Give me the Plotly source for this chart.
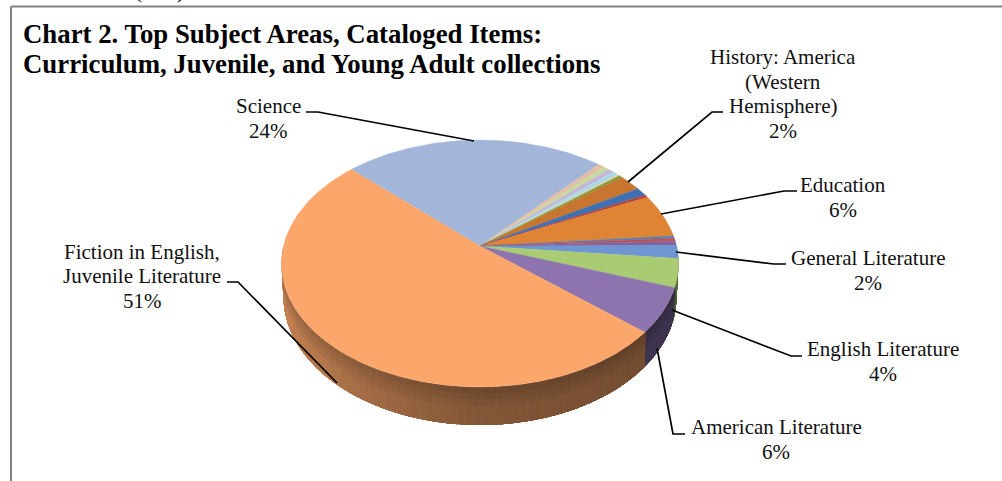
import numpy as np
import plotly.graph_objects as go

# Clockwise slice order, beginning at the Science / Fiction boundary
subjects = ["Science", "Minor 1", "Minor 2", "Minor 3", "Minor 4", "Minor 5", "Minor 6",
            "History: America (Western Hemisphere)", "Minor 7", "Minor 8", "Education",
            "Minor 9", "Minor 10", "Minor 11", "General Literature", "English Literature",
            "American Literature", "Fiction in English, Juvenile Literature"]
shares = [24.4, 0.6, 0.55, 0.55, 0.55, 0.2, 0.35, 2.1, 1.1, 0.35, 5.7,
          0.3, 0.4, 0.55, 1.7, 3.7, 5.9, 51.0]
colors = ["#A3B5D8", "#E4BFA8", "#C8D89E", "#C6B4D8", "#A9D9E6", "#F5CFA8", "#7F9F3C",
          "#C8762F", "#3E70B2", "#B8443F", "#DE8434",
          "#4F81BD", "#C0504D", "#8064A2", "#6E96D2", "#A9CC72", "#8D74AE", "#FBA76B"]

# Label text and its placement: centre x and the y of each line
labels = {
    "Science": (268, ["Science"], [106, 131]),
    "History: America (Western Hemisphere)": (783, ["History: America", "(Western", "Hemisphere)"], [57, 82, 106, 131]),
    "Education": (843, ["Education"], [185, 210]),
    "General Literature": (868, ["General Literature"], [258, 283]),
    "English Literature": (883, ["English Literature"], [349, 374]),
    "American Literature": (776, ["American Literature"], [427, 452]),
    "Fiction in English, Juvenile Literature": (142, ["Fiction in English,", "Juvenile Literature"], [252, 276, 301]),
}
leaders = {
    "Science": ([306, 318, 474], [112, 112, 141]),
    "History: America (Western Hemisphere)": ([723, 712, 628], [112, 112, 182]),
    "Education": ([797, 784, 661], [191, 191, 214]),
    "General Literature": ([786, 774, 676], [264, 264, 252]),
    "English Literature": ([802, 791, 672], [356, 356, 310]),
    "American Literature": ([685, 673, 657], [434, 434, 348]),
    "Fiction in English, Juvenile Literature": ([227, 238, 337], [282, 282, 383]),
}
title_lines = ["Chart 2. Top Subject Areas, Cataloged Items:",
               "Curriculum, Juvenile, and Young Adult collections"]

SERIF = "Liberation Serif"

# Perspective view of the pie disc: apex, radius, foreshortening and wall depth
APEX_X, APEX_Y, RADIUS, FORE, TILT, DEPTH = 480.0, 246.0, 196.5, 0.1417, 121.0, 32.6
START_ANGLE = 136.0


def project(deg, lower=0.0):
    """Project a rim angle (radius 1) onto the page; lower=1 gives the underside."""
    t = np.radians(np.asarray(deg, dtype=float))
    u, v = np.cos(t), np.sin(t)
    w = 1 + FORE * v
    scale = 1 - 0.01 * lower
    return (APEX_X + RADIUS * scale * u / w,
            APEX_Y - TILT * v / w + lower * DEPTH / w)


def tone(hex_color, factor):
    r, g, b = (int(hex_color[i:i + 2], 16) for i in (1, 3, 5))
    return f"rgb({min(255, int(r * factor))},{min(255, int(g * factor))},{min(255, int(b * factor))})"


def wall_shade(deg):
    # deg runs from 180 (left) through 270 (front) to 360 (right)
    return np.interp(deg, [180, 225, 270, 320, 345, 360], [0.80, 0.68, 0.50, 0.44, 0.42, 0.62])


fig = go.Figure()
ends = START_ANGLE - np.cumsum(shares) * 3.6
starts = np.concatenate([[START_ANGLE], ends[:-1]])

# Side wall of the disc, front half only, as narrow strips: each strip overlaps its
# neighbour so no seams show between them, and shading steps are small
STEP = 2.0
LAYERS = 6
for a0, a1, col in zip(starts, ends, colors):
    lo, hi = a1, a0
    for shift in (0, 360):
        s0, s1 = max(lo + shift, 180), min(hi + shift, 360)
        if s1 <= s0:
            continue
        edges = np.linspace(s0, s1, max(2, int((s1 - s0) / STEP) + 2))
        for e0, e1 in zip(edges[:-1], edges[1:]):
            shade = float(wall_shade((e0 + e1) / 2))
            # paint from the top edge downward, each pass reaching to the underside
            for k in range(LAYERS):
                l0 = k / LAYERS
                f = 0.88 + 0.17 * min(1.0, l0 * 2)
                x0, y0 = project([e0 - 0.6, e1 + 0.6], l0)
                x1, y1 = project([e1 + 0.6, e0 - 0.6], 1.0)
                fig.add_trace(go.Scatter(x=np.r_[x0, x1], y=np.r_[y0, y1], mode="none",
                                         fill="toself", fillcolor=tone(col, shade * f),
                                         hoverinfo="skip", showlegend=False))

# Top face of the pie
for name, a0, a1, col in zip(subjects, starts, ends, colors):
    arc = np.linspace(a0, a1, max(3, int(abs(a0 - a1) * 2)))
    ax, ay = project(arc)
    fig.add_trace(go.Scatter(x=np.r_[APEX_X, ax, APEX_X], y=np.r_[APEX_Y, ay, APEX_Y],
                             mode="lines", fill="toself", fillcolor=col,
                             line=dict(color=col, width=0.4), name=name,
                             hoverinfo="name", showlegend=False))

# Leader lines
for lx, ly in leaders.values():
    fig.add_trace(go.Scatter(x=lx, y=ly, mode="lines", line=dict(color="black", width=1.7),
                             hoverinfo="skip", showlegend=False))

annotations = []


def put(text, x, y, size, anchor="center", bold=False, yanchor="middle"):
    annotations.append(dict(x=x, y=y, xref="x", yref="y", text=f"<b>{text}</b>" if bold else text,
                            showarrow=False, xanchor=anchor, yanchor=yanchor, borderpad=0,
                            font=dict(family=SERIF, size=size, color="#111111" if not bold else "black")))


lookup = dict(zip(subjects, shares))
for name, (cx, lines, ys) in labels.items():
    for line, y in zip(lines + [f"{round(lookup[name])}%"], ys):
        put(line, cx, y, 21)

put(title_lines[0], 22, 34, 26.8, anchor="left", bold=True)
put(title_lines[1], 22, 64, 26.8, anchor="left", bold=True)

# Tail of the line of text above the frame
put("(", 138, 4, 21, yanchor="bottom")
put(")", 180, 4, 21, yanchor="bottom")

frame = dict(type="line", xref="x", yref="y", line=dict(color="#808080", width=2))
fig.update_layout(
    width=1002, height=481, margin=dict(l=0, r=0, t=0, b=0),
    paper_bgcolor="white", plot_bgcolor="white",
    xaxis=dict(range=[0, 1002], visible=False, fixedrange=True),
    yaxis=dict(range=[481, 0], visible=False, fixedrange=True),
    shapes=[dict(frame, x0=11, x1=1002, y0=6.5, y1=6.5), dict(frame, x0=11, x1=11, y0=6.5, y1=481)],
    annotations=annotations,
)
fig.write_html("out.html")
